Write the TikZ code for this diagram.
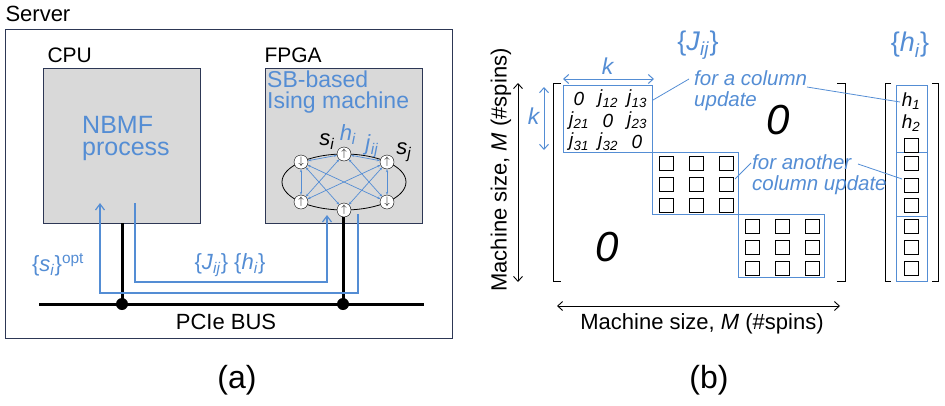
\documentclass[tikz,border=0pt]{standalone}
\usepackage{fontspec}
\setmainfont{Liberation Sans}
\usetikzlibrary{arrows.meta,positioning}
\definecolor{ibl}{RGB}{84,141,212}
\definecolor{boxgray}{RGB}{217,217,217}
\definecolor{edge}{RGB}{45,55,85}
\newcommand{\vs}[2]{\textit{#1}\textsubscript{\textit{#2}}}
\tikzset{
  fs/.style={font=\fontsize{#1}{#1}\selectfont},
  chip/.style={draw=edge,fill=boxgray,line width=0.8pt},
  bus/.style={line width=3pt,black},
  sig/.style={ibl,line width=1.2pt},
  spin/.style={circle,draw,fill=white,inner sep=0pt,minimum size=14pt,fs=11},
  cpl/.style={ibl,line width=0.7pt,{Stealth[length=3pt]}-{Stealth[length=3pt]}},
  blk/.style={draw=ibl,line width=1pt},
  sq/.style={draw,line width=1pt,minimum size=14pt,inner sep=0pt},
  lead/.style={ibl,line width=0.8pt},
  dbl/.style={{Straight Barb[length=5pt,width=9pt]}-{Straight Barb[length=5pt,width=9pt]}},
}
\begin{document}
\begin{tikzpicture}[x=1pt,y=-1pt]
\useasboundingbox (0,0) rectangle (945,405);
% (a) server
\node[fs=22,anchor=west] (srv) at (2,14) {Server};
\draw[edge,line width=0.8pt] (5,29) rectangle (452,338);
\node[fs=21,anchor=west] (cpul) at (44,55) {CPU};
\node[fs=21,anchor=west] (fpgal) at (261,55) {FPGA};
\draw[chip] (43,68) rectangle (200,223);
\draw[chip] (265,68) rectangle (422,223);
\node[fs=25,ibl,align=left,anchor=north west,inner sep=0pt] (nbmf) at (82,116) {NBMF\\[-3pt]process};
\node[fs=23,ibl,align=left,anchor=north west,inner sep=0pt] (sb) at (267,71) {SB-based\\[-2pt]Ising machine};
% Ising ring
\draw[line width=0.8pt] (344,182) ellipse [x radius=62,y radius=28];
\node[spin] (tl) at (301,162) {$\downarrow$};
\node[spin] (t) at (344,154) {$\uparrow$};
\node[spin] (tr) at (387,162) {$\uparrow$};
\node[spin] (bl) at (301,202) {$\uparrow$};
\node[spin] (b) at (344,210) {$\uparrow$};
\node[spin] (br) at (387,202) {$\downarrow$};
\foreach \p/\q in {tl/t,t/tr,tl/br,tr/bl,tl/b,tr/b,tl/bl,tr/br,t/bl,t/br}
  \draw[cpl] (\p) -- (\q);
\node[fs=22] (si) at (327,142) {\vs{s}{i}};
\node[fs=22,ibl] (hi) at (348,135) {\vs{h}{i}};
\node[fs=22,ibl] (jij) at (372,146) {\vs{j}{ij}};
\node[fs=22] (sj) at (404,152) {\vs{s}{j}};
% bus
\coordinate (bw) at (39,304);
\coordinate (be) at (424,304);
\coordinate (tc) at (122,223);
\coordinate (tf) at (343,217);
\coordinate (dc) at (122,304);
\coordinate (df) at (343,304);
\draw[bus] (bw) -- (be);
\draw[bus] (tc) -- (dc);
\draw[bus] (tf) -- (df);
\fill (dc) circle (6);
\fill (df) circle (6);
\node[fs=22] (pcie) at (226,322) {PCIe BUS};
% data paths
\coordinate (sa) at (358,214);
\coordinate (sb) at (100,203);
\coordinate (ja) at (135,203);
\coordinate (jb) at (327,215);
\draw[sig,-{Straight Barb[length=6pt,width=9pt]}] (sa) |- (100,293) -- (sb);
\draw[sig,-{Straight Barb[length=6pt,width=9pt]}] (ja) |- (327,282) -- (jb);
\node[fs=22,ibl] (sopt) at (58,265) {\{\vs{s}{i}\}\textsuperscript{opt}};
\node[fs=22,ibl] (jh) at (230,265) {\{\vs{J}{ij}\} \{\vs{h}{i}\}};
\node[fs=32] (la) at (237,380) {(a)};
% (b) matrix
\node[fs=27,ibl] (jlab) at (698,45) {\{\vs{J}{ij}\}};
\node[fs=27,ibl] (hlab) at (910,45) {\{\vs{h}{i}\}};
\draw[line width=0.8pt] (561,83) -- (553,83) -- (553,281) -- (561,281);
\draw[line width=0.8pt] (837,83) -- (845,83) -- (845,281) -- (837,281);
\draw[line width=0.8pt] (891,83) -- (885,83) -- (885,281) -- (891,281);
\draw[line width=0.8pt] (932,83) -- (938,83) -- (938,281) -- (932,281);
\draw[blk] (563,85) rectangle (652,152);
\draw[blk] (652,152) rectangle (738,214);
\draw[blk] (738,214) rectangle (824,277);
\foreach \t [count=\n from 0] in {\textit{0},\vs{j}{12},\vs{j}{13},\vs{j}{21},\textit{0},\vs{j}{23},\vs{j}{31},\vs{j}{32},\textit{0}}
  \node[fs=19] (e\n) at ({579+29*mod(\n,3)},{99+21.5*int(\n/3)}) {\t};
\foreach \i in {0,1,2}
  \foreach \j in {0,1,2} {
    \node[sq] (p\i\j) at ({666+30*\i},{163+21*\j}) {};
    \node[sq] (q\i\j) at ({752+30*\i},{226+21*\j}) {};
  }
\node[fs=42] (z1) at (778,120) {\textit{0}};
\node[fs=42] (z2) at (607,247) {\textit{0}};
\draw[dbl,ibl,line width=1pt] (563,79) -- (654,79);
\node[fs=23,ibl] (kh) at (608,66) {\textit{k}};
\draw[dbl,ibl,line width=1pt] (544,87) -- (544,150);
\node[fs=23,ibl] (kv) at (534,116) {\textit{k}};
% h vector
\draw[blk] (896,85) rectangle (927,152);
\draw[blk] (896,152) rectangle (927,216);
\draw[blk] (896,216) rectangle (927,281);
\node[fs=19] (h1) at (911,101) {\vs{h}{1}};
\node[fs=19] (h2) at (911,123) {\vs{h}{2}};
\foreach \y [count=\n] in {145,163,185,205,226,247,268}
  \node[sq] (hs\n) at (911,\y) {};
% annotations
\node[fs=20.5,ibl,align=left,anchor=north west,inner sep=0pt] (ann1) at (694,70) {\textit{for a column}\\[1pt]\textit{update}};
\node[fs=20.5,ibl,align=left,anchor=north west,inner sep=0pt] (ann2) at (752,154) {\textit{for another}\\[1pt]\textit{column update}};
\coordinate (a1) at (653,100);
\coordinate (a2) at (689,79);
\coordinate (a3) at (807,87);
\coordinate (a4) at (900,102);
\coordinate (a5) at (735,179);
\coordinate (a6) at (751,163);
\coordinate (a7) at (858,164);
\coordinate (a8) at (902,179);
\draw[lead] (a1) -- (a2);
\draw[lead] (a3) -- (a4);
\draw[lead] (a5) -- (a6);
\draw[lead] (a7) -- (a8);
% axes
\draw[dbl,line width=0.9pt] (557,306) -- (840,306);
\node[fs=22] (xl) at (702,324) {Machine size, \textit{M} (\#spins)};
\draw[dbl,line width=0.9pt] (518,83) -- (518,282);
\node[fs=22,rotate=90] (yl) at (501,170) {Machine size, \textit{M} (\#spins)};
\node[fs=32] (lb) at (709,380) {(b)};
\end{tikzpicture}
\end{document}
